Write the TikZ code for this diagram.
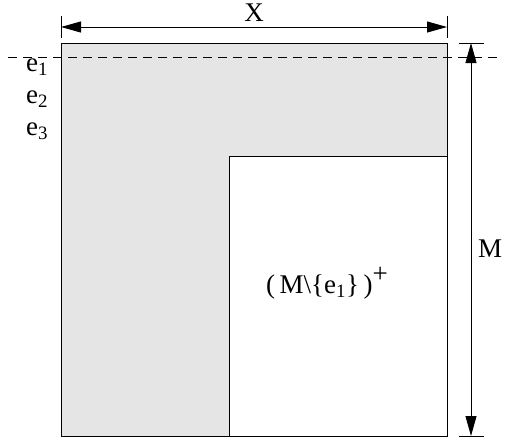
\documentclass[tikz,border=0pt]{standalone}
\usepackage{fontspec}
\setmainfont{Liberation Serif}
\usetikzlibrary{arrows.meta,positioning}

\begin{document}
\begin{tikzpicture}[
  x=1pt, y=-1pt,
  lbl/.style={font=\fontsize{27}{30}\selectfont, inner sep=0pt},
  dim/.style={line width=0.9pt, {Triangle[length=20pt,width=11pt]}-{Triangle[length=20pt,width=11pt]}},
  tick/.style={line width=0.9pt},
  frame/.style={draw, line width=0.9pt}
]
\useasboundingbox (0,0) rectangle (509,437);
% corners of the matrix
\coordinate (tl) at (61,43);
\coordinate (br) at (447,436);
\coordinate (itl) at (229,156);
\filldraw[frame, fill=black!10] (tl) rectangle (br);
\filldraw[frame, fill=white] (itl) rectangle (br);
% row of e1
\coordinate (dl) at (8,57);
\coordinate (dr) at (501,57);
\draw[line width=0.8pt, dash pattern=on 9pt off 6pt] (dl) -- (dr);
\node[lbl] (e1) at (37,67) {e\textsubscript{1}};
\node[lbl] (e2) at (37,99) {e\textsubscript{2}};
\node[lbl] (e3) at (37,131) {e\textsubscript{3}};
% width X
\coordinate (xl) at (61,27);
\coordinate (xr) at (447,27);
\draw[tick] (61,16) -- (61,38);
\draw[tick] (447,16) -- (447,38);
\draw[dim] (xl) -- (xr);
\node[lbl] (xlab) at (254,13) {X};
% height M
\coordinate (mt) at (471,43);
\coordinate (mb) at (471,436);
\draw[tick] (459,43) -- (484,43);
\draw[tick] (459,436) -- (484,436);
\draw[dim] (mt) -- (mb);
\node[lbl] (mlab) at (490,249) {M};
% the remaining block
\node[lbl] (rest) at (327,283) {(\,M\textbackslash\{e\textsubscript{1}\}\,)\raisebox{0.4em}{+}};
\end{tikzpicture}
\end{document}
